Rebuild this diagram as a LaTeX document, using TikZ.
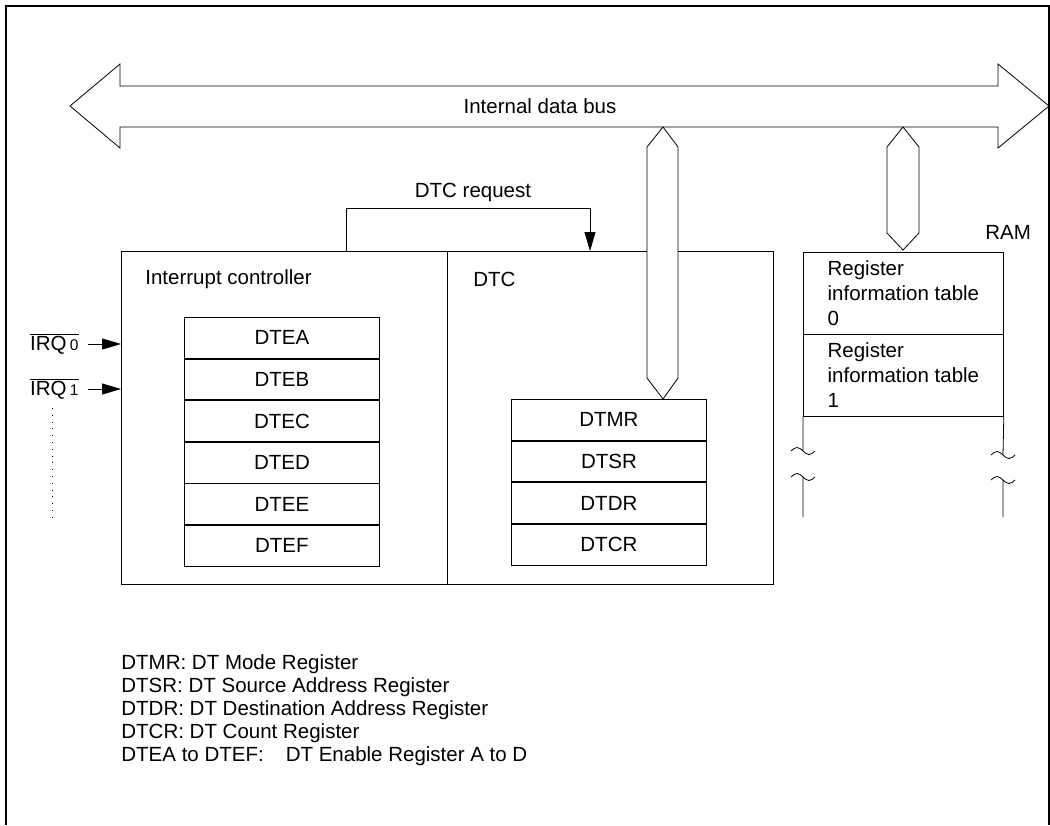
\documentclass[tikz,border=0pt]{standalone}
\usepackage{fontspec}
\setmainfont{Liberation Sans}
\usepackage{tikz}
\usetikzlibrary{positioning, arrows.meta}

\tikzset{
	reg/.style = {draw, minimum width=195pt, minimum height=40.8pt, inner sep=0pt},
	ramrow/.style = {draw, minimum width=200pt, minimum height=81.5pt, inner sep=0pt, align=left},
	block/.style = {draw, minimum width=326pt, minimum height=333pt, anchor=north west},
	busline/.style = {draw, fill=white, line join=miter},
	tip/.style = {-{Triangle[length=19pt,width=11pt]}},
	txt/.style = {inner sep=0pt, anchor=west}
}

\begin{document}
\begin{tikzpicture}
			[x=1pt, y=-1pt, line width=0.8pt, font=\fontsize{20.5}{25}\selectfont]
			\useasboundingbox (0,0) rectangle (1050,825);
			\draw[line width=1.2pt] (6,825) -- (6,6) -- (1049,6) -- (1049,825);
			% internal data bus
			\draw[busline] (70,106) -- (120,64) -- (120,86) -- (998,86) -- (998,64) -- (1049,106)
				-- (998,148) -- (998,127) -- (120,127) -- (120,148) -- cycle;
			\node (busname) at (540,106) {Internal data bus};
			% interrupt controller and DTC
			\node[block] (intc) at (121,251) {};
			\node[block] (dtc) at (447,251) {};
			\node[txt] (intcname) at (145,279) {Interrupt controller};
			\node[txt] (dtcname) at (473,279) {DTC};
			\node[reg, anchor=north west] (dtea) at (184,317) {DTEA};
			\node[reg, below=0pt of dtea] (dteb) {DTEB};
			\node[reg, below=0pt of dteb] (dtec) {DTEC};
			\node[reg, below=0pt of dtec] (dted) {DTED};
			\node[reg, below=0pt of dted] (dtee) {DTEE};
			\node[reg, below=0pt of dtee] (dtef) {DTEF};
			\node[reg, anchor=north west] (dtmr) at (511,399) {DTMR};
			\node[reg, below=0pt of dtmr] (dtsr) {DTSR};
			\node[reg, below=0pt of dtsr] (dtdr) {DTDR};
			\node[reg, below=0pt of dtdr] (dtcr) {DTCR};
			% DTC request
			\coordinate (reqfrom) at (346,251);
			\coordinate (reqto) at (590,251);
			\draw[tip] (reqfrom) -- (346,208) -| (reqto);
			\node (reqname) at (473,192) {DTC request};
			% bus to the DTC
			\draw[busline] (663,127) -- (678,147) -- (678,378) -- (663,399) -- (647,378) -- (647,147) -- cycle;
			% IRQ inputs
			\node[anchor=east, inner sep=0pt] (irq0) at (79,344) {$\overline{\hbox{IRQ\,\fontsize{15.5}{15}\selectfont 0}}$};
			\node[anchor=east, inner sep=0pt] (irq1) at (79,389) {$\overline{\hbox{IRQ\,\fontsize{15.5}{15}\selectfont 1}}$};
			\draw[tip, shorten <=9pt] (irq0.east) -- (irq0.east -| intc.west);
			\draw[tip, shorten <=9pt] (irq1.east) -- (irq1.east -| intc.west);
			\draw[dash pattern=on 0.8pt off 6pt] (52,408) -- (52,518);
			% RAM
			\node[ramrow, anchor=north west] (ram0) at (803,252) {Register\\information table\\0};
			\node[ramrow, below=0pt of ram0] (ram1) {Register\\information table\\1};
			\node[txt] (ramname) at (985,232) {RAM};
			\draw[busline] (903,127) -- (919,147) -- (919,233) -- (903,250) -- (887,233) -- (887,147) -- cycle;
			\draw (ram1.south west) -- (803,451) (791,451) sin (797,447.5) cos (803,451) sin (809,454.5) cos (815,451);
			\draw (791,477) sin (797,473.5) cos (803,477) sin (809,480.5) cos (815,477) (803,477) -- (803,517);
			\draw (ram1.south east) -- (1003,455) (991,455) sin (997,451.5) cos (1003,455) sin (1009,458.5) cos (1015,455);
			\draw (991,480) sin (997,476.5) cos (1003,480) sin (1009,483.5) cos (1015,480) (1003,480) -- (1003,517);
			% key
			\node[txt] (keymr) at (121,664) {DTMR: DT Mode Register};
			\node[txt] (keysr) at (121,687) {DTSR: DT Source Address Register};
			\node[txt] (keydr) at (121,710) {DTDR: DT Destination Address Register};
			\node[txt] (keycr) at (121,733) {DTCR: DT Count Register};
			\node[txt] (keyea) at (121,756) {DTEA to DTEF:\hspace{22pt}DT Enable Register A to D};
		\end{tikzpicture}
\end{document}
